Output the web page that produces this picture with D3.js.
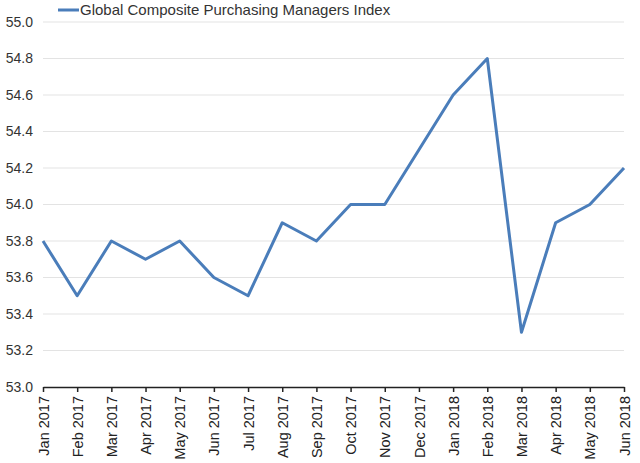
<!DOCTYPE html>
<html><head><meta charset="utf-8">
<script src="https://d3js.org/d3.v7.min.js"></script>
<style>body{margin:0;background:#fff;}</style>
</head><body>
<script>
const months = ["Jan 2017","Feb 2017","Mar 2017","Apr 2017","May 2017","Jun 2017","Jul 2017","Aug 2017","Sep 2017","Oct 2017","Nov 2017","Dec 2017","Jan 2018","Feb 2018","Mar 2018","Apr 2018","May 2018","Jun 2018"];
const pmi = [53.8,53.5,53.8,53.7,53.8,53.6,53.5,53.9,53.8,54.0,54.0,54.3,54.6,54.8,53.3,53.9,54.0,54.2];
const yTicks = [53.0,53.2,53.4,53.6,53.8,54.0,54.2,54.4,54.6,54.8,55.0];
const seriesName = "Global Composite Purchasing Managers Index";

const W = 640, H = 463;
const m = {left: 43, right: 16, top: 22, bottom: 76};
const svg = d3.select("body").append("svg").attr("width", W).attr("height", H);
const x = d3.scalePoint().domain(months).range([m.left, W - m.right]);
const y = d3.scaleLinear().domain([53.0, 55.0]).range([H - m.bottom, m.top]);

// gridlines
svg.append("g").selectAll("line").data(yTicks.slice(1)).join("line")
  .attr("x1", m.left).attr("x2", W - m.right)
  .attr("y1", d => y(d)).attr("y2", d => y(d))
  .attr("stroke", "#e3e3e3").attr("stroke-width", 1);

// y labels
svg.append("g").selectAll("text").data(yTicks).join("text")
  .attr("x", 33).attr("y", d => y(d)).attr("dy", "0.35em")
  .attr("text-anchor", "end")
  .attr("font-family", "Liberation Sans, Arial, sans-serif").attr("font-size", 14)
  .attr("fill", "#333").text(d => d.toFixed(1));

// x axis
const xa = svg.append("g").attr("transform", `translate(0,${y(53.0)})`)
  .call(d3.axisBottom(x).tickSize(5).tickSizeOuter(0));
xa.select(".domain").attr("stroke", "#222").attr("stroke-width", 1.5);
xa.selectAll(".tick line").attr("stroke", "#222").attr("stroke-width", 1.5);
xa.selectAll(".tick text")
  .attr("font-family", "Liberation Sans, Arial, sans-serif").attr("font-size", 14.5)
  .attr("fill", "#222")
  .attr("transform", "rotate(-90)")
  .attr("text-anchor", "end")
  .attr("x", -9).attr("y", 0).attr("dy", "0.35em");

// line
svg.append("path").datum(pmi)
  .attr("fill", "none").attr("stroke", "#4a7dba").attr("stroke-width", 3)
  .attr("stroke-linejoin", "round")
  .attr("d", d3.line().x((d, i) => x(months[i])).y(d => y(d)));

// legend
svg.append("line").attr("x1", 58).attr("x2", 79).attr("y1", 10).attr("y2", 10)
  .attr("stroke", "#4a7dba").attr("stroke-width", 3);
svg.append("text").attr("x", 80).attr("y", 10).attr("dy", "0.35em")
  .attr("font-family", "Liberation Sans, Arial, sans-serif").attr("font-size", 15)
  .attr("fill", "#333").text(seriesName);
</script>
</body></html>
